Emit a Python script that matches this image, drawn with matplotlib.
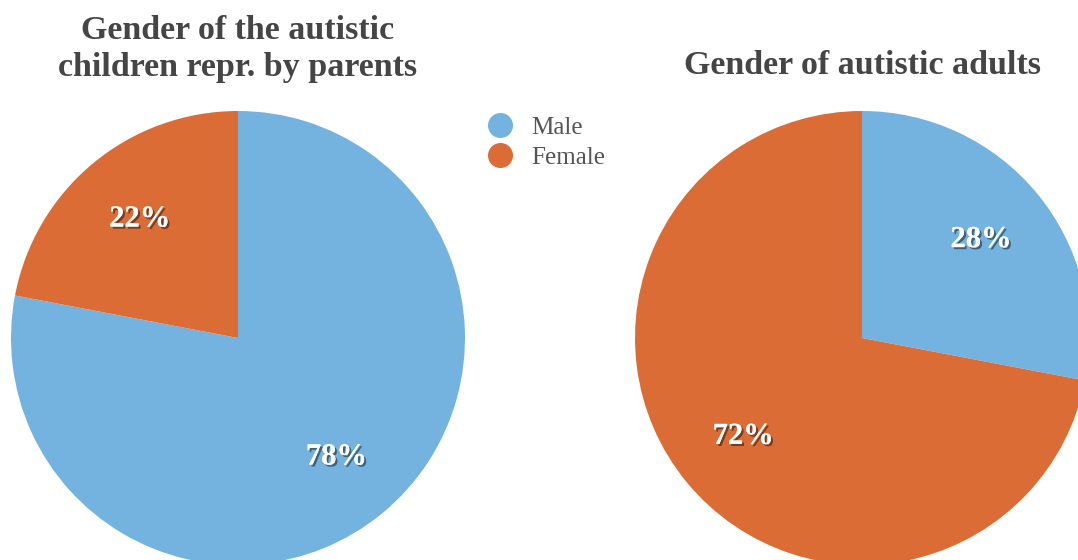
import matplotlib.pyplot as plt
import matplotlib.patheffects as pe
from matplotlib.lines import Line2D

labels = ["Male", "Female"]
children = [78, 22]
adults = [28, 72]
titles = ["Gender of the autistic\nchildren repr. by parents", "Gender of autistic adults"]
colors = ["#74b3e0", "#dc6c35"]

plt.rcParams["font.family"] = ["Liberation Serif", "DejaVu Serif"]

fig = plt.figure(figsize=(10.78, 5.6), dpi=100)
ax = fig.add_axes([0, 0, 1, 1])

shadow = [pe.withSimplePatchShadow(offset=(1.5, -1.5), shadow_rgbFace="black", alpha=0.45),
          pe.Normal()]

for values, cx in [(children, 238), (adults, 862)]:
    wedges, texts, autotexts = ax.pie(
        values, colors=colors, startangle=90, counterclock=False,
        center=(cx, 222), radius=227, autopct="%d%%", pctdistance=0.68,
        textprops=dict(color="white", fontsize=22, fontweight="bold"))
    for t in autotexts:
        t.set_path_effects(shadow)

ax.set_xlim(0, 1078)
ax.set_ylim(0, 560)
ax.set_aspect("equal")
ax.axis("off")

fig.text(238 / 1078, 1 - 49 / 560, titles[0], ha="center", va="center",
         fontsize=24.5, fontweight="bold", color="#454545", linespacing=1.22)
fig.text(862 / 1078, 1 - 66 / 560, titles[1], ha="center", va="center",
         fontsize=24.5, fontweight="bold", color="#454545")

handles = [Line2D([], [], marker="o", linestyle="", markersize=17, color=c) for c in colors]
fig.legend(handles, labels, loc="upper left", bbox_to_anchor=(465 / 1078, 1 - 106 / 560),
           frameon=False, fontsize=18, labelcolor="#555555", handletextpad=0.25,
           labelspacing=0.3, borderaxespad=0)

fig.savefig("out.png", dpi=100)
